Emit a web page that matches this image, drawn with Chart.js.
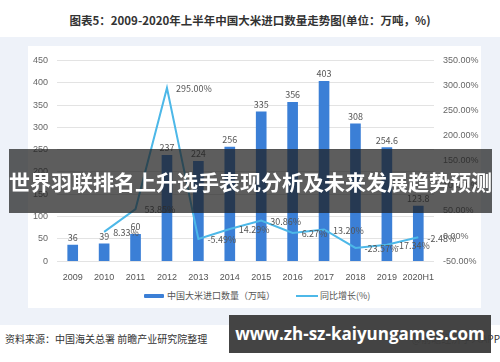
<!DOCTYPE html>
<html>
<head>
<meta charset="utf-8">
<script src="https://cdn.jsdelivr.net/npm/chart.js@4"></script>
<style>
  body { margin:0; width:500px; height:362px; background:#fff; position:relative; overflow:hidden; font-family:"Noto Sans CJK SC", sans-serif; }
  #title { position:absolute; left:0; width:500px; top:12px; text-align:center; font-size:11.5px; font-weight:bold; color:#333; }
  #panel { position:absolute; left:0; top:37px; width:500px; height:288px; background:#eef2f9; }
  #box { position:absolute; left:28px; top:46px; width:453px; height:262px; background:#fff; }
  #wrap { position:absolute; left:28px; top:46px; width:453px; height:240px; }
  #legend { position:absolute; left:0; top:289px; width:500px; font-size:9px; color:#555; }
  #legend span { position:absolute; white-space:nowrap; }
  #src { position:absolute; left:5px; top:331px; font-size:10px; color:#333; }
  #app { position:absolute; right:0; top:331px; font-size:10px; color:#333; white-space:nowrap; }
  #banner { position:absolute; left:9px; top:149px; width:483px; height:64px; background:rgba(30,30,30,.72); color:#fff; font-size:21px; font-weight:bold; line-height:64px; white-space:nowrap; overflow:hidden; }
  #url { position:absolute; left:229px; top:315px; width:262px; height:38px; background:rgba(60,60,60,.96); color:#fff; font-size:17px; font-weight:bold; line-height:38px; text-align:center; white-space:nowrap; font-family:"Open Sans", "DejaVu Sans", sans-serif; }
</style>
</head>
<body>
<div id="title">图表5：2009-2020年上半年中国大米进口数量走势图(单位：万吨，%)</div>
<div id="panel"></div>
<div id="box"></div>
<div id="wrap"><canvas id="c"></canvas></div>
<div id="legend">
  <span style="left:144px;top:5px;width:20px;height:4px;background:#3b7fd6;border-radius:1px"></span>
  <span style="left:167px;top:0">中国大米进口数量（万吨）</span>
  <span style="left:296px;top:6px;width:22px;height:2px;background:#4db8e8"></span>
  <span style="left:320px;top:0">同比增长(%)</span>
</div>
<div id="src">资料来源：中国海关总署 前瞻产业研究院整理</div>
<div id="app">@前瞻经济学人APP</div>
<div id="banner">世界羽联排名上升选手表现分析及未来发展趋势预测</div>
<div id="url">www.zh-sz-kaiyungames.com</div>
<script>
const years = ["2009","2010","2011","2012","2013","2014","2015","2016","2017","2018","2019","2020H1"];
const imports = [36, 39, 60, 237, 224, 256, 335, 356, 403, 308, 254.6, 123.8];
const growth = [null, 8.33, 53.85, 295.00, -5.49, 14.29, 30.86, 6.27, 13.20, -23.57, -17.34, -2.48];

const labelPlugin = {
  id: "labels",
  afterDatasetsDraw(chart) {
    const ctx = chart.ctx;
    ctx.save();
    ctx.font = '9px "Noto Sans CJK SC", sans-serif';
    ctx.fillStyle = "#555";
    chart.getDatasetMeta(0).data.forEach((el, i) => {
      ctx.textAlign = "center"; ctx.textBaseline = "bottom";
      ctx.fillText(String(imports[i]), el.x, el.y - 3);
    });
    chart.getDatasetMeta(1).data.forEach((el, i) => {
      if (growth[i] === null) return;
      ctx.textAlign = "left"; ctx.textBaseline = "middle";
      ctx.fillText(growth[i].toFixed(2) + "%", el.x + 9, el.y + 1);
    });
    ctx.restore();
  }
};

new Chart(document.getElementById("c"), {
  type: "bar",
  data: {
    labels: years,
    datasets: [
      {label: "中国大米进口数量（万吨）", data: imports, backgroundColor: "#3b7fd6", barThickness: 10, yAxisID: "y", order: 2},
      {label: "同比增长(%)", data: growth, type: "line", borderColor: "#4db8e8", borderWidth: 2, pointRadius: 0, tension: 0, yAxisID: "y1", order: 1}
    ]
  },
  options: {
    responsive: true, maintainAspectRatio: false, animation: false,
    layout: {padding: {top: 2}},
    plugins: {legend: {display: false}, tooltip: {enabled: false}},
    scales: {
      x: {grid: {display: false}, border: {display: false}, ticks: {color: "#555", font: {size: 9}, padding: 3, maxRotation: 0, autoSkip: false}},
      y: {min: 0, max: 450, ticks: {stepSize: 50, color: "#666", font: {size: 9}, padding: 9}, grid: {color: "#e3e3e3", drawTicks: false}, border: {display: false}, afterFit: s => { s.width = 29; }},
      y1: {position: "right", min: -50, max: 350, ticks: {stepSize: 50, color: "#666", font: {size: 9}, padding: 9, callback: v => v.toFixed(2) + "%"}, grid: {drawOnChartArea: false, drawTicks: false}, border: {display: false}, afterFit: s => { s.width = 47; }}
    }
  },
  plugins: [labelPlugin]
});
</script>
</body>
</html>
